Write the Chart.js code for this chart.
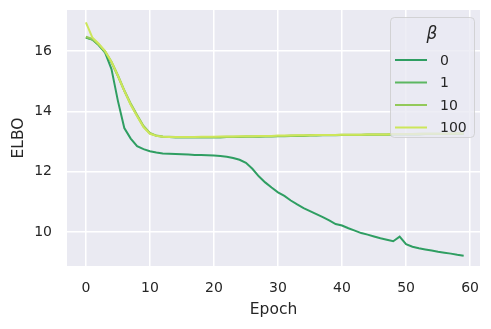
<!DOCTYPE html>
<html>
<head>
<meta charset="utf-8">
<script src="https://cdn.jsdelivr.net/npm/chart.js@4"></script>
<style>
  html, body { margin: 0; padding: 0; background: #ffffff; }
  #wrap { width: 491px; height: 329px; }
</style>
</head>
<body>
<div id="wrap"><canvas id="chart" width="491" height="329"></canvas></div>
<script>
// epochs 0..59
const epochs = [
  0, 1, 2, 3, 4, 5, 6, 7, 8, 9,
  10, 11, 12, 13, 14, 15, 16, 17, 18, 19,
  20, 21, 22, 23, 24, 25, 26, 27, 28, 29,
  30, 31, 32, 33, 34, 35, 36, 37, 38, 39,
  40, 41, 42, 43, 44, 45, 46, 47, 48, 49,
  50, 51, 52, 53, 54, 55, 56, 57, 58, 59
];

const betaLabels = ['0', '1', '10', '100'];
const betaColors = ['#2f9e62', '#5cb761', '#93c95a', '#cde65a'];

const elboBeta0 = [
  16.45, 16.38, 16.2, 15.95, 15.4, 14.35, 13.45, 13.1, 12.85, 12.75,
  12.68, 12.64, 12.61, 12.6, 12.59, 12.58, 12.57, 12.56, 12.56, 12.55,
  12.54, 12.52, 12.5, 12.46, 12.4, 12.3, 12.1, 11.85, 11.65, 11.48,
  11.32, 11.2, 11.05, 10.92, 10.8, 10.7, 10.6, 10.5, 10.39, 10.27,
  10.22, 10.13, 10.05, 9.97, 9.92, 9.86, 9.8, 9.75, 9.7, 9.85,
  9.6, 9.52, 9.47, 9.43, 9.39, 9.35, 9.32, 9.29, 9.25, 9.22
];
const elboBeta1 = [
  16.45, 16.38, 16.2, 15.97, 15.62, 15.17, 14.68, 14.24, 13.86, 13.5,
  13.27, 13.19, 13.16, 13.15, 13.14, 13.14, 13.14, 13.14, 13.14, 13.14,
  13.14, 13.14, 13.15, 13.15, 13.15, 13.16, 13.16, 13.16, 13.17, 13.17,
  13.18, 13.18, 13.19, 13.19, 13.19, 13.2, 13.2, 13.21, 13.21, 13.21,
  13.22, 13.22, 13.22, 13.22, 13.23, 13.23, 13.23, 13.23, 13.24, 13.24,
  13.24, 13.24, 13.24, 13.25, 13.25, 13.25, 13.25, 13.25, 13.26, 13.26
];
const elboBeta10 = [
  16.48, 16.4, 16.22, 15.99, 15.65, 15.2, 14.7, 14.26, 13.88, 13.52,
  13.29, 13.2, 13.17, 13.16, 13.15, 13.15, 13.15, 13.15, 13.15, 13.15,
  13.15, 13.15, 13.16, 13.16, 13.16, 13.17, 13.17, 13.17, 13.18, 13.18,
  13.19, 13.19, 13.2, 13.2, 13.2, 13.21, 13.21, 13.22, 13.22, 13.22,
  13.23, 13.23, 13.23, 13.23, 13.24, 13.24, 13.24, 13.24, 13.25, 13.25,
  13.25, 13.25, 13.26, 13.26, 13.26, 13.26, 13.26, 13.27, 13.27, 13.27
];
const elboBeta100 = [
  16.95, 16.45, 16.24, 16.0, 15.64, 15.18, 14.68, 14.22, 13.84, 13.48,
  13.26, 13.19, 13.16, 13.15, 13.15, 13.15, 13.15, 13.15, 13.16, 13.16,
  13.16, 13.17, 13.17, 13.17, 13.18, 13.18, 13.18, 13.19, 13.19, 13.19,
  13.2, 13.2, 13.2, 13.21, 13.21, 13.21, 13.22, 13.22, 13.22, 13.22,
  13.23, 13.23, 13.23, 13.23, 13.24, 13.24, 13.24, 13.24, 13.25, 13.25,
  13.25, 13.25, 13.25, 13.26, 13.26, 13.26, 13.26, 13.26, 13.27, 13.27
];

const xTicks = [0, 10, 20, 30, 40, 50, 60];
const yTicks = [10, 12, 14, 16];

const seriesList = [elboBeta0, elboBeta1, elboBeta10, elboBeta100];

const textColor = '#262626';
const fontFamily = '"DejaVu Sans", sans-serif';

// grey plot background like seaborn darkgrid
const plotBackground = {
  id: 'plotBackground',
  beforeDraw(chart) {
    const { ctx, chartArea } = chart;
    ctx.save();
    ctx.fillStyle = '#eaeaf2';
    ctx.fillRect(chartArea.left, chartArea.top, chartArea.right - chartArea.left, chartArea.bottom - chartArea.top);
    ctx.restore();
  }
};

// legend drawn inside the axes, upper right, over the lines
const innerLegend = {
  id: 'innerLegend',
  afterDatasetsDraw(chart) {
    const ctx = chart.ctx;
    const x0 = 390, y0 = 17, w = 84, h = 120, r = 4;
    ctx.save();
    ctx.beginPath();
    ctx.roundRect(x0 + 0.5, y0 + 0.5, w, h, r);
    ctx.fillStyle = 'rgba(234,234,242,0.8)';
    ctx.fill();
    ctx.strokeStyle = 'rgba(204,204,204,0.8)';
    ctx.lineWidth = 1;
    ctx.stroke();

    ctx.fillStyle = textColor;
    ctx.textAlign = 'center';
    ctx.textBaseline = 'middle';
    ctx.font = 'italic 17px ' + fontFamily;
    ctx.fillText('β', 432, 35);

    ctx.textAlign = 'left';
    ctx.font = '14px ' + fontFamily;
    betaLabels.forEach((lab, i) => {
      const y = 60 + i * 22.5;
      ctx.strokeStyle = betaColors[i];
      ctx.lineWidth = 2;
      ctx.beginPath();
      ctx.moveTo(395, y);
      ctx.lineTo(427, y);
      ctx.stroke();
      ctx.fillStyle = textColor;
      ctx.fillText(lab, 440, y + 1);
    });
    ctx.restore();
  }
};

const ctx = document.getElementById('chart').getContext('2d');
new Chart(ctx, {
  type: 'line',
  data: {
    datasets: seriesList.map((vals, i) => ({
      label: betaLabels[i],
      data: epochs.map((e, j) => ({ x: e, y: vals[j] })),
      borderColor: betaColors[i],
      backgroundColor: betaColors[i],
      borderWidth: 2,
      pointRadius: 0,
      tension: 0,
      order: seriesList.length - 1 - i
    }))
  },
  options: {
    responsive: false,
    animation: false,
    layout: { padding: { top: 10, right: 11, left: 0, bottom: 0 } },
    plugins: {
      legend: { display: false },
      tooltip: { enabled: false }
    },
    scales: {
      x: {
        type: 'linear',
        min: -2.95,
        max: 61.55,
        afterBuildTicks(scale) { scale.ticks = xTicks.map(v => ({ value: v })); },
        afterFit(scale) { scale.height = 63; scale.paddingLeft = 0; scale.paddingRight = 0; },
        grid: { color: '#ffffff', lineWidth: 1.5, drawTicks: false },
        border: { display: false },
        ticks: { color: textColor, padding: 14, font: { family: fontFamily, size: 14 }, maxRotation: 0 },
        title: { display: true, text: 'Epoch', color: textColor, padding: { top: 0, bottom: 10 }, font: { family: fontFamily, size: 15.5 } }
      },
      y: {
        min: 8.88,
        max: 17.36,
        afterBuildTicks(scale) { scale.ticks = yTicks.map(v => ({ value: v })); },
        afterFit(scale) { scale.width = 67; scale.paddingTop = 0; scale.paddingBottom = 0; },
        grid: { color: '#ffffff', lineWidth: 1.5, drawTicks: false },
        border: { display: false },
        ticks: { color: textColor, padding: 15, font: { family: fontFamily, size: 14 } },
        title: { display: true, text: 'ELBO', color: textColor, padding: { top: 10, bottom: 0 }, font: { family: fontFamily, size: 15.5 } }
      }
    }
  },
  plugins: [plotBackground, innerLegend]
});
</script>
</body>
</html>
